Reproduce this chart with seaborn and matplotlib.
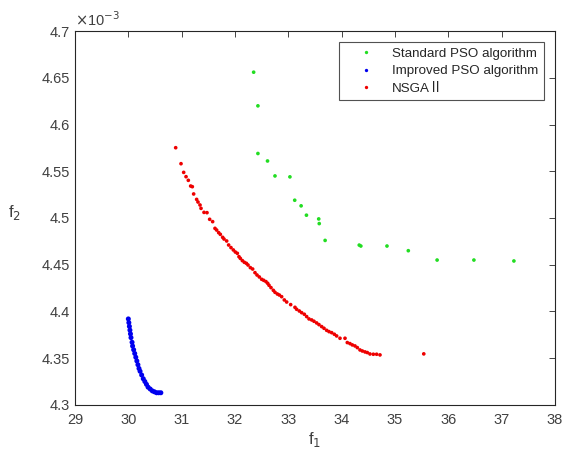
import matplotlib
matplotlib.use("Agg")
import matplotlib.pyplot as plt
import seaborn as sns
import pandas as pd
from matplotlib.ticker import FuncFormatter, MultipleLocator

# f2 values are in units of 1e-3 (axis shows x10^-3 offset)
std_f1 = [32.35, 32.43, 32.43, 32.61, 32.75, 33.03, 33.12, 33.24, 33.34, 33.57,
          33.58, 33.69, 34.33, 34.36, 34.85, 35.25, 35.79, 36.48, 37.23]
std_f2 = [4.656, 4.620, 4.569, 4.561, 4.545, 4.544, 4.519, 4.513, 4.503, 4.499,
          4.494, 4.476, 4.471, 4.470, 4.470, 4.465, 4.455, 4.455, 4.454]

imp_f1 = [30.00, 30.01, 30.02, 30.03, 30.04, 30.05, 30.07, 30.08, 30.10, 30.12,
          30.14, 30.16, 30.18, 30.20, 30.22, 30.25, 30.28, 30.31, 30.34, 30.37,
          30.41, 30.45, 30.49, 30.53, 30.57, 30.61]
imp_f2 = [4.392, 4.388, 4.384, 4.380, 4.376, 4.372, 4.367, 4.363, 4.359, 4.355,
          4.351, 4.347, 4.343, 4.339, 4.336, 4.332, 4.328, 4.325, 4.322, 4.319,
          4.317, 4.315, 4.314, 4.313, 4.313, 4.313]

nsga_f1 = [30.888, 30.988, 31.038, 31.082, 31.125, 31.169, 31.200, 31.225, 31.281, 31.306,
           31.344, 31.363, 31.419, 31.475, 31.525, 31.581, 31.625, 31.656, 31.694, 31.725,
           31.769, 31.794, 31.844, 31.881, 31.925, 31.969, 32.006, 32.044, 32.075, 32.100,
           32.138, 32.175, 32.213, 32.244, 32.288, 32.331, 32.375, 32.413, 32.456, 32.500,
           32.538, 32.581, 32.613, 32.638, 32.675, 32.719, 32.750, 32.794, 32.831, 32.875,
           32.925, 32.969, 33.044, 33.125, 33.156, 33.206, 33.250, 33.300, 33.344, 33.388,
           33.438, 33.481, 33.531, 33.575, 33.625, 33.669, 33.719, 33.763, 33.813, 33.863,
           33.906, 33.969, 34.063, 34.106, 34.156, 34.200, 34.250, 34.294, 34.344, 34.388,
           34.438, 34.481, 34.531, 34.594, 34.656, 34.719, 35.54]
nsga_f2 = [4.5752, 4.5581, 4.5488, 4.5442, 4.5403, 4.5342, 4.5335, 4.5257, 4.5199, 4.5171,
           4.5139, 4.5103, 4.5060, 4.5057, 4.4986, 4.4961, 4.4889, 4.4871, 4.4843, 4.4825,
           4.4793, 4.4775, 4.4754, 4.4711, 4.4683, 4.4658, 4.4636, 4.4622, 4.4586, 4.4568,
           4.4544, 4.4526, 4.4515, 4.4497, 4.4469, 4.4454, 4.4415, 4.4390, 4.4369, 4.4344,
           4.4333, 4.4319, 4.4301, 4.4280, 4.4255, 4.4226, 4.4205, 4.4187, 4.4176, 4.4158,
           4.4123, 4.4101, 4.4073, 4.4044, 4.4023, 4.4005, 4.3987, 4.3970, 4.3945, 4.3920,
           4.3909, 4.3895, 4.3877, 4.3859, 4.3838, 4.3820, 4.3798, 4.3784, 4.3773, 4.3756,
           4.3738, 4.3713, 4.3713, 4.3667, 4.3656, 4.3642, 4.3631, 4.3613, 4.3588, 4.3577,
           4.3567, 4.3560, 4.3545, 4.3542, 4.3542, 4.3535, 4.3546]

labels = ["Standard PSO algorithm", "Improved PSO algorithm", "NSGA\u2161"]
colors = ["#22dd22", "#0000ee", "#ee0000"]

df = pd.concat([
    pd.DataFrame({"f1": std_f1, "f2": std_f2, "alg": labels[0]}),
    pd.DataFrame({"f1": imp_f1, "f2": imp_f2, "alg": labels[1]}),
    pd.DataFrame({"f1": nsga_f1, "f2": nsga_f2, "alg": labels[2]}),
])

sns.set_theme(style="white")
plt.rcParams["font.family"] = ["Liberation Sans", "Noto Sans CJK SC", "DejaVu Sans"]
plt.rcParams["font.size"] = 10.5

fig = plt.figure(figsize=(5.66, 4.57), dpi=100)
ax = fig.add_axes([0.1325, 0.114, 0.848, 0.818])

sns.scatterplot(data=df, x="f1", y="f2", hue="alg", palette=dict(zip(labels, colors)),
                size="alg", sizes={labels[0]: 7, labels[1]: 13, labels[2]: 7},
                linewidth=0, ax=ax, legend=True)

ax.set_xlim(29, 38)
ax.set_ylim(4.3, 4.7)
ax.xaxis.set_major_locator(MultipleLocator(1))
ax.yaxis.set_major_locator(MultipleLocator(0.05))
ax.yaxis.set_major_formatter(FuncFormatter(lambda v, p: f"{v:g}"))

axc = "#404040"
for sp in ax.spines.values():
    sp.set_color("#262626")
    sp.set_linewidth(0.8)
ax.tick_params(direction="in", top=True, right=True, length=4, width=0.6,
               colors="#262626", labelcolor=axc, labelsize=10.5)
ax.tick_params(axis="x", pad=6)

ax.set_xlabel("f$_1$", fontsize=12, color=axc, labelpad=2)
ax.set_ylabel("f$_2$", fontsize=12, color=axc, rotation=0, labelpad=14)
ax.yaxis.set_label_coords(-0.125, 0.49)
ax.text(0.0, 1.005, r"$\times$10$^{-3}$", transform=ax.transAxes, fontsize=10.5,
        color=axc, va="bottom", ha="left")

handles, _ = ax.get_legend_handles_labels()
for h in handles:
    try:
        h.set_markersize(2.4)
    except AttributeError:
        pass
leg = ax.legend(handles=handles, labels=labels, loc="upper right",
                bbox_to_anchor=(0.977, 0.971), borderaxespad=0,
                frameon=True, fancybox=False, edgecolor="#262626", fontsize=9.6,
                handletextpad=0.33, borderpad=0.4, labelspacing=0.4,
                handlelength=3.26)
leg.get_frame().set_linewidth(0.8)
for t in leg.get_texts():
    t.set_color("#262626")

fig.savefig("out.png", dpi=100)
